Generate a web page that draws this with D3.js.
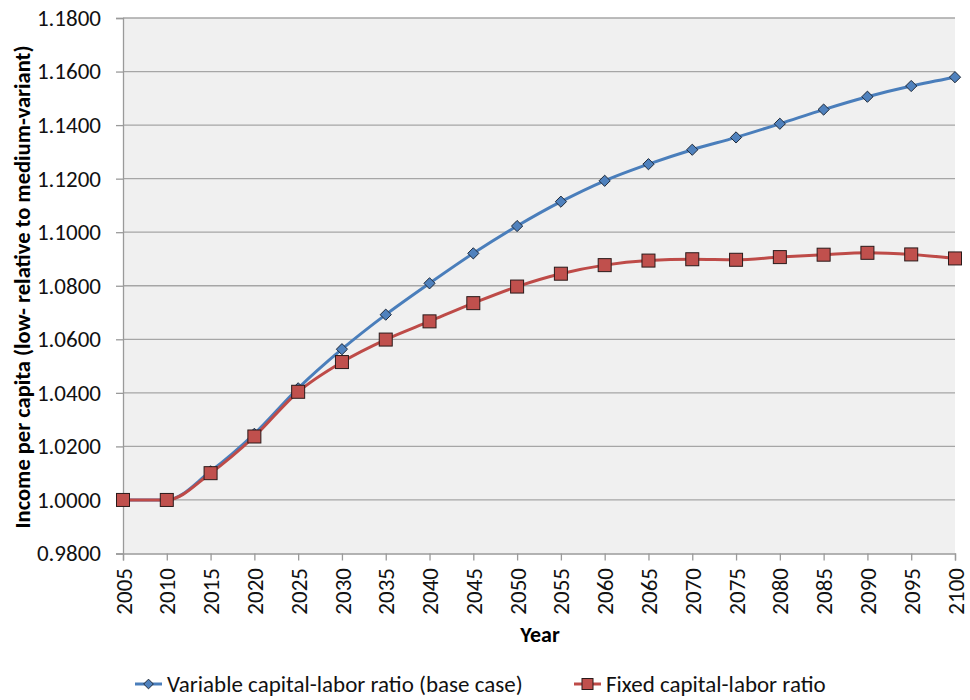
<!DOCTYPE html>
<html>
<head>
<meta charset="utf-8">
<script src="https://cdn.jsdelivr.net/npm/d3@7"></script>
<style>
  body { margin: 0; background: #fff; }
  svg { display: block; }
</style>
</head>
<body>
<svg id="chart" width="970" height="700"></svg>
<script>
// years on the x axis
var years = [2005, 2010, 2015, 2020, 2025, 2030, 2035, 2040, 2045, 2050,
  2055, 2060, 2065, 2070, 2075, 2080, 2085, 2090, 2095, 2100];

// Variable capital-labor ratio (base case)
var variableRatio = [1.0000, 1.0000, 1.0107, 1.0247, 1.0417, 1.0563, 1.0692, 1.0809, 1.0921, 1.1023,
  1.1114, 1.1192, 1.1254, 1.1308, 1.1354, 1.1405, 1.1458, 1.1506, 1.1546, 1.1579];

// Fixed capital-labor ratio
var fixedRatio = [1.0000, 1.0000, 1.0100, 1.0237, 1.0404, 1.0515, 1.0599, 1.0667, 1.0735, 1.0797,
  1.0845, 1.0877, 1.0894, 1.0899, 1.0897, 1.0907, 1.0916, 1.0923, 1.0917, 1.0902];

var yTicks = [0.98, 1.00, 1.02, 1.04, 1.06, 1.08, 1.10, 1.12, 1.14, 1.16, 1.18];

var seriesNames = ["Variable capital-labor ratio (base case)", "Fixed capital-labor ratio"];

var svg = d3.select("#chart");
var plotLeft = 123, plotRight = 955, plotTop = 18, plotBottom = 553.5;

var x = d3.scaleLinear().domain([2005, 2100]).range([plotLeft, plotRight]);
var y = d3.scaleLinear().domain([0.98, 1.18]).range([plotBottom, plotTop]);

var labelFont = "Carlito, Lato, 'Liberation Sans', sans-serif";

// plot background
svg.append("rect")
  .attr("x", plotLeft).attr("y", plotTop)
  .attr("width", plotRight - plotLeft).attr("height", plotBottom - plotTop)
  .style("fill", "#f0f0f0");

// horizontal grid
svg.append("g")
  .selectAll("line")
  .data(yTicks.slice(1))
  .enter()
  .append("line")
  .attr("x1", plotLeft).attr("x2", plotRight)
  .attr("y1", function (d) { return y(d); })
  .attr("y2", function (d) { return y(d); })
  .style("stroke", "#a6a6a6")
  .style("stroke-width", 1.3);

// y axis
var yAxis = svg.append("g")
  .attr("transform", "translate(" + plotLeft + ",0)")
  .call(d3.axisLeft(y).tickValues(yTicks).tickSize(7).tickPadding(15)
    .tickFormat(d3.format(".4f")));
yAxis.select(".domain").style("stroke", "#9a9a9a").style("stroke-width", 1.3);
yAxis.selectAll(".tick line").style("stroke", "#9a9a9a").style("stroke-width", 1.3);
yAxis.selectAll("text")
  .style("font-family", labelFont)
  .style("font-size", "23px")
  .style("fill", "#111");

// x axis
var xAxis = svg.append("g")
  .attr("transform", "translate(0," + plotBottom + ")")
  .call(d3.axisBottom(x).tickValues(years).tickSize(7).tickFormat(d3.format("d")));
xAxis.select(".domain").style("stroke", "#9a9a9a").style("stroke-width", 1.3);
xAxis.selectAll(".tick line").style("stroke", "#9a9a9a").style("stroke-width", 1.3);
xAxis.selectAll("text")
  .attr("transform", "rotate(-90)")
  .attr("x", -14.5).attr("y", 0).attr("dy", "0.35em")
  .style("text-anchor", "end")
  .style("font-family", labelFont)
  .style("font-size", "23px")
  .style("fill", "#111");

// axis titles
svg.append("text")
  .attr("x", 540).attr("y", 642)
  .attr("text-anchor", "middle")
  .style("font-family", labelFont)
  .style("font-size", "22px")
  .style("font-weight", "bold")
  .text("Year");

svg.append("text")
  .attr("transform", "translate(30,287) rotate(-90)")
  .attr("text-anchor", "middle")
  .style("font-family", labelFont)
  .style("font-size", "22.5px")
  .style("font-weight", "bold")
  .text("Income per capita (low- relative to medium-variant)");

var line = d3.line()
  .x(function (d) { return x(d.year); })
  .y(function (d) { return y(d.value); })
  .curve(d3.curveMonotoneX);

function toPoints(values) {
  return years.map(function (yr, i) { return { year: yr, value: values[i] }; });
}

var blue = { line: "#4a7ebb", fill: "#4f81bd" };
var red = { line: "#be4b48", fill: "#c0504d" };

var variablePts = toPoints(variableRatio);
var fixedPts = toPoints(fixedRatio);

svg.append("path")
  .attr("d", line(variablePts))
  .style("fill", "none")
  .style("stroke", blue.line)
  .style("stroke-width", 3);

svg.append("g")
  .selectAll("path")
  .data(variablePts)
  .enter()
  .append("path")
  .attr("d", d3.symbol().type(d3.symbolDiamond2).size(80))
  .attr("transform", function (d) { return "translate(" + x(d.year) + "," + y(d.value) + ")"; })
  .style("fill", blue.fill)
  .style("stroke", "#1f2a3a")
  .style("stroke-width", 1);

svg.append("path")
  .attr("d", line(fixedPts))
  .style("fill", "none")
  .style("stroke", red.line)
  .style("stroke-width", 3);

svg.append("g")
  .selectAll("rect")
  .data(fixedPts)
  .enter()
  .append("rect")
  .attr("x", function (d) { return x(d.year) - 6.5; })
  .attr("y", function (d) { return y(d.value) - 6.5; })
  .attr("width", 13).attr("height", 13)
  .style("fill", red.fill)
  .style("stroke", "#2a1a1a")
  .style("stroke-width", 1);

// legend
var legend = svg.append("g").attr("transform", "translate(0,684)");
var legendItems = [
  { name: seriesNames[0], x: 135, c: blue, shape: "diamond" },
  { name: seriesNames[1], x: 574, c: red, shape: "square" }
];
legendItems.forEach(function (d) {
  var g = legend.append("g").attr("transform", "translate(" + d.x + ",0)");
  g.append("line")
    .attr("x1", 0).attr("x2", 27).attr("y1", 0).attr("y2", 0)
    .style("stroke", d.c.line).style("stroke-width", 3);
  if (d.shape === "diamond") {
    g.append("path")
      .attr("d", d3.symbol().type(d3.symbolDiamond2).size(60))
      .attr("transform", "translate(13.5,0)")
      .style("fill", d.c.fill).style("stroke", "#1f2a3a").style("stroke-width", 1);
  } else {
    g.append("rect")
      .attr("x", 8).attr("y", -5.5).attr("width", 11).attr("height", 11)
      .style("fill", d.c.fill).style("stroke", "#2a1a1a").style("stroke-width", 1);
  }
  g.append("text")
    .attr("x", 32).attr("y", 0).attr("dy", "0.35em")
    .style("font-family", labelFont)
    .style("font-size", "23px")
    .style("fill", "#111")
    .text(d.name);
});
</script>
</body>
</html>
